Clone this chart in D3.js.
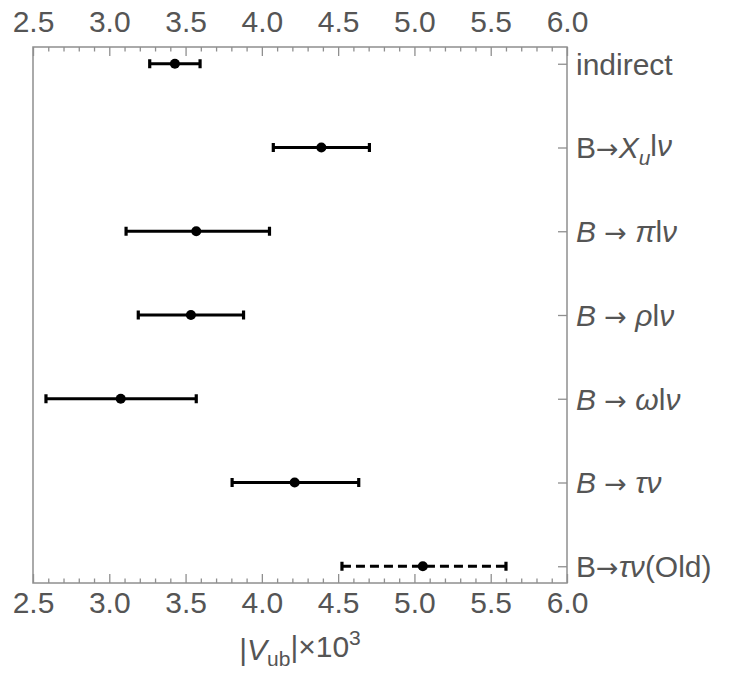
<!DOCTYPE html>
<html>
<head>
<meta charset="utf-8">
<script src="https://cdn.jsdelivr.net/npm/d3@7"></script>
<style>
  html, body { margin: 0; padding: 0; background: #fff; }
  svg { display: block; }
  text { font-family: "Liberation Sans", Arial, Helvetica, sans-serif; fill: #555; }
</style>
</head>
<body>
<svg id="chart" width="735" height="674"></svg>
<script>
// ---- data ----
const categories = ["indirect", "B→Xu lν", "B → πlν", "B → ρlν", "B → ωlν", "B → τν", "B→τν(Old)"];
const centers = [3.43, 4.39, 3.57, 3.535, 3.075, 4.215, 5.055];
const lows    = [3.265, 4.075, 3.11, 3.19, 2.585, 3.805, 4.525];
const highs   = [3.595, 4.705, 4.05, 3.88, 3.57, 4.635, 5.60];
const dashed  = [false, false, false, false, false, false, true];
const majorTicks = [2.5, 3.0, 3.5, 4.0, 4.5, 5.0, 5.5, 6.0];
const minorTicks = d3.range(25, 61).map(d => d / 10).filter(d => Math.round(d * 10) % 5 !== 0);

// label pieces: [text, italic, kind]
const labelParts = [
  [["indirect", false]],
  [["B", false], ["→", false, "arrow"], ["X", true], ["u", true, "sub"], ["l", false], ["ν", true]],
  [["B", true], [" ", false], ["→", false, "arrow"], [" ", false], ["π", true], ["l", false], ["ν", true]],
  [["B", true], [" ", false], ["→", false, "arrow"], [" ", false], ["ρ", true], ["l", false], ["ν", true]],
  [["B", true], [" ", false], ["→", false, "arrow"], [" ", false], ["ω", true], ["l", false], ["ν", true]],
  [["B", true], [" ", false], ["→", false, "arrow"], [" ", false], ["τν", true]],
  [["B", false], ["→", false, "arrow"], ["τν", true], ["(Old)", false]]
];

const svg = d3.select("#chart");
const L = 33, R = 567, T = 47, B = 583;
const x = d3.scaleLinear().domain([2.5, 6.0]).range([L, R]);
const y = d3.scaleLinear().domain([0.8, 7.2]).range([T, B]);
const frameColor = "#8f8f8f";
const fs = 30;

// frame
svg.append("rect").attr("x", L).attr("y", T).attr("width", R - L).attr("height", B - T)
  .attr("fill", "none").attr("stroke", frameColor).attr("stroke-width", 1.5);

function styleAxis(g) {
  g.select(".domain").remove();
  g.selectAll(".tick line").attr("stroke", frameColor).attr("stroke-width", 1.3);
  g.selectAll("text").attr("font-size", fs).attr("fill", "#555")
    .attr("font-family", "Liberation Sans, Arial, sans-serif");
}

// top axis
svg.append("g").attr("transform", `translate(0,${T})`)
  .call(d3.axisTop(x).tickValues(majorTicks).tickSize(-9).tickPadding(15).tickFormat(d3.format(".1f")))
  .call(styleAxis);
svg.append("g").attr("transform", `translate(0,${T})`)
  .call(d3.axisTop(x).tickValues(minorTicks).tickSize(-4.5).tickFormat(""))
  .call(styleAxis);
// bottom axis
svg.append("g").attr("transform", `translate(0,${B})`)
  .call(d3.axisBottom(x).tickValues(majorTicks).tickSize(-9).tickPadding(9).tickFormat(d3.format(".1f")))
  .call(styleAxis);
svg.append("g").attr("transform", `translate(0,${B})`)
  .call(d3.axisBottom(x).tickValues(minorTicks).tickSize(-4.5).tickFormat(""))
  .call(styleAxis);

// right ticks + labels
const rows = d3.range(categories.length);
svg.append("g").attr("transform", `translate(${R},0)`)
  .call(d3.axisRight(y).tickValues(rows.map(i => i + 1)).tickSize(-9).tickFormat(""))
  .call(styleAxis);

const lab = svg.append("g");
rows.forEach(i => {
  const t = lab.append("text").attr("x", R + 9).attr("y", y(i + 1)).attr("dy", "0.36em")
    .attr("font-size", fs).attr("fill", "#555");
  let prevSub = false;
  labelParts[i].forEach(p => {
    const ts = t.append("tspan").text(p[0]).attr("font-style", p[1] ? "italic" : "normal");
    if (p[2] === "arrow") ts.attr("font-family", "DejaVu Sans").attr("font-size", fs * 0.9);
    if (p[2] === "sub") { ts.attr("dy", "0.3em").attr("font-size", fs * 0.7); prevSub = true; }
    else if (prevSub) { ts.attr("dy", "-0.3em").attr("font-size", fs); prevSub = false; }
  });
});

// error bars
const bars = svg.append("g");
rows.forEach(i => {
  const yy = y(i + 1);
  bars.append("line").attr("x1", x(lows[i])).attr("x2", x(highs[i])).attr("y1", yy).attr("y2", yy)
    .attr("stroke", "#000").attr("stroke-width", 3.2)
    .attr("stroke-dasharray", dashed[i] ? "9,5" : null);
  [lows[i], highs[i]].forEach(v => {
    bars.append("line").attr("x1", x(v)).attr("x2", x(v)).attr("y1", yy - 4.5).attr("y2", yy + 4.5)
      .attr("stroke", "#000").attr("stroke-width", 3.2);
  });
  bars.append("circle").attr("cx", x(centers[i])).attr("cy", yy).attr("r", 5).attr("fill", "#000");
});

// x title
const title = svg.append("text").attr("x", (L + R) / 2).attr("y", 660).attr("text-anchor", "middle")
  .attr("font-size", fs).attr("fill", "#555");
title.append("tspan").text("|");
title.append("tspan").text("V").attr("font-style", "italic");
title.append("tspan").text("ub").attr("font-size", fs * 0.7).attr("dy", "0.3em");
title.append("tspan").text("|×10").attr("font-size", fs).attr("dy", "-0.3em");
title.append("tspan").text("3").attr("font-size", fs * 0.7).attr("dy", "-0.6em");
</script>
</body>
</html>
